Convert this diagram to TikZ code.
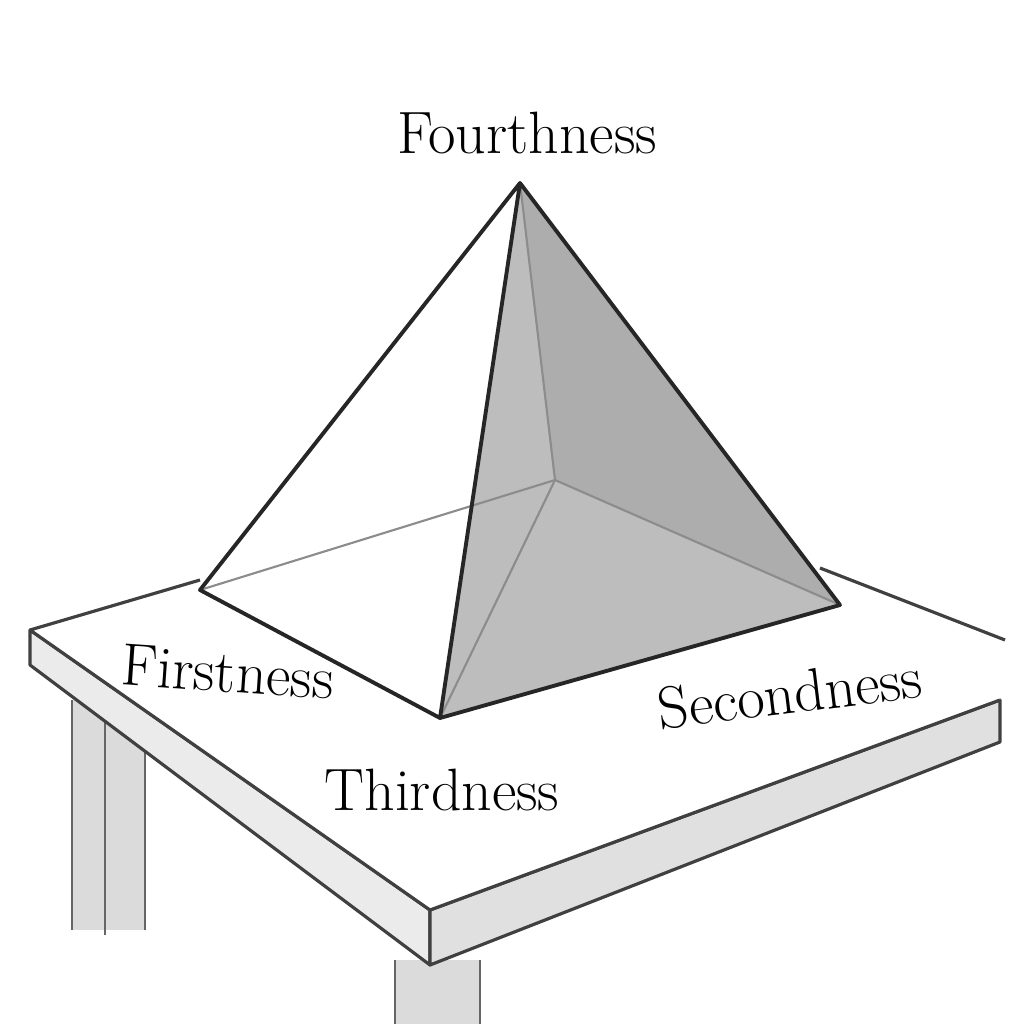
\documentclass[tikz,border=0pt]{standalone}
\usepackage{tikz}
\tikzset{
  pen/.style={draw=black!85, line width=1.1pt, line join=round},
  faint/.style={draw=black!45, line width=0.6pt},
  wood/.style={fill=black!8, draw=black!75, line width=0.9pt, line join=round},
  lbl/.style={font=\fontsize{17}{20}\selectfont, text=black}
}
\begin{document}
\begin{tikzpicture}[x=0.01cm, y=-0.01cm]
\useasboundingbox (0,0) rectangle (1024,1024);
% legs
\fill[black!14] (72,700) rectangle (145,930);
\draw[black!60, line width=0.7pt] (72,700) -- (72,930) (105,705) -- (105,935) (145,700) -- (145,930);
\fill[black!14] (395,960) rectangle (480,1024);
\draw[black!60, line width=0.7pt] (395,960) -- (395,1024) (480,960) -- (480,1024);
% table top and sides
\filldraw[wood] (30,630) -- (430,910) -- (430,965) -- (30,665) -- cycle;
\filldraw[wood, fill=black!12] (430,910) -- (1000,700) -- (1000,742) -- (430,965) -- cycle;
\fill[white] (30,630) -- (640,455) -- (1005,640) -- (1000,700) -- (430,910) -- cycle;
\draw[black!75, line width=0.9pt] (30,630) -- (200,580) (820,568) -- (1005,640)
  (30,630) -- (430,910) -- (1000,700);
% pyramid
\coordinate (apex) at (520,183);
\coordinate (bl) at (200,590);
\coordinate (bf) at (440,718);
\coordinate (br) at (840,605);
\coordinate (bb) at (555,480);
\fill[black!30, opacity=0.85] (apex) -- (bf) -- (br) -- cycle;
\fill[black!36, opacity=0.6] (apex) -- (bb) -- (br) -- cycle;
\draw[faint] (apex) -- (bb) -- (bf) (bb) -- (br) (bl) -- (bb);
\draw[pen] (apex) -- (bl) -- (bf) -- (br) -- cycle (apex) -- (bf);
% labels
\node[lbl] (fourth) at (527,133) {Fourthness};
\node[lbl, rotate=-4] (first) at (228,672) {Firstness};
\node[lbl, rotate=7] (second) at (790,693) {Secondness};
\node[lbl] (third) at (442,790) {Thirdness};
\end{tikzpicture}
\end{document}
